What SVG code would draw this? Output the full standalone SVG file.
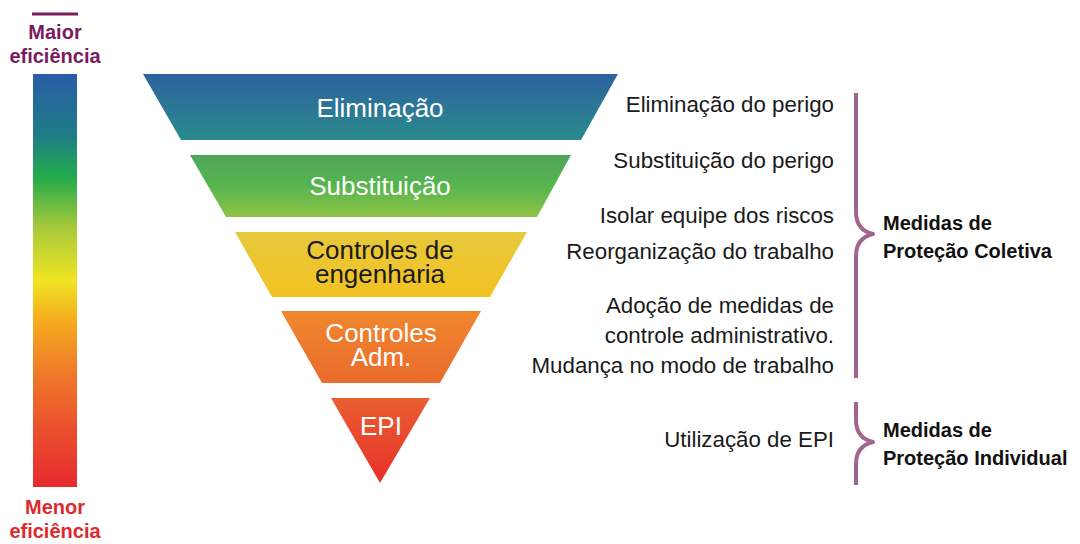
<svg xmlns="http://www.w3.org/2000/svg" width="1080" height="544" viewBox="0 0 1080 544">
<defs>
<linearGradient id="bar" x1="0" y1="74" x2="0" y2="487" gradientUnits="userSpaceOnUse">
<stop offset="0" stop-color="#2a5ca8"/>
<stop offset="0.15" stop-color="#1e7d86"/>
<stop offset="0.25" stop-color="#22ab4c"/>
<stop offset="0.37" stop-color="#a6c83a"/>
<stop offset="0.5" stop-color="#f0e424"/>
<stop offset="0.6" stop-color="#f5aa1e"/>
<stop offset="0.72" stop-color="#ef7b2a"/>
<stop offset="0.87" stop-color="#ea4c2e"/>
<stop offset="1" stop-color="#e52a2e"/>
</linearGradient>
<linearGradient id="pyr" x1="0" y1="74" x2="0" y2="483" gradientUnits="userSpaceOnUse">
<stop offset="0" stop-color="#2d62a0"/>
<stop offset="0.161" stop-color="#2a8a8c"/>
<stop offset="0.198" stop-color="#4fa65a"/>
<stop offset="0.27" stop-color="#55b44f"/>
<stop offset="0.35" stop-color="#8ec445"/>
<stop offset="0.386" stop-color="#e6c83c"/>
<stop offset="0.545" stop-color="#f3c222"/>
<stop offset="0.58" stop-color="#f0882e"/>
<stop offset="0.756" stop-color="#ea6a2c"/>
<stop offset="0.792" stop-color="#e95e30"/>
<stop offset="1" stop-color="#e8302a"/>
</linearGradient>
<style>
.lvl{fill:url(#pyr)}
.pt{font-family:"Liberation Sans",Arial,sans-serif;font-size:26px;fill:#ffffff;text-anchor:middle}
.pt.dark{fill:#1a1a1a}
.rt{font-family:"Liberation Sans",Arial,sans-serif;font-size:22.3px;fill:#1a1a1a;text-anchor:end}
.bl{font-family:"Liberation Sans",Arial,sans-serif;font-size:20px;font-weight:bold;fill:#111111}
.sc{font-family:"Liberation Sans",Arial,sans-serif;font-size:20px;font-weight:bold;text-anchor:middle}
.brace{fill:none;stroke:#a0668f;stroke-width:4;stroke-linejoin:round}
</style>
</defs>
<rect width="1080" height="544" fill="#ffffff"/>

<g id="scale">
<line x1="32" y1="14" x2="78" y2="14" stroke="#7a1b5f" stroke-width="3"/>
<text class="sc" x="55" y="39" fill="#7a1b5f">Maior</text>
<text class="sc" x="55" y="63" fill="#7a1b5f">eficiência</text>
<rect x="33" y="74" width="44" height="413" fill="url(#bar)"/>
<text class="sc" x="55" y="514" fill="#e0282f">Menor</text>
<text class="sc" x="55" y="538" fill="#e0282f">eficiência</text>
</g>

<g id="eliminacao">
<polygon class="lvl" points="143,74 618,74 581,140 181,140"/>
<text class="pt" x="380" y="117">Eliminação</text>
</g>
<g id="substituicao">
<polygon class="lvl" points="190,155 571,155 537,217 226,217"/>
<text class="pt" x="380" y="195">Substituição</text>
</g>
<g id="engenharia">
<polygon class="lvl" points="235,232 527,232 490,297 272,297"/>
<text class="pt dark" x="380" y="259">Controles de</text>
<text class="pt dark" x="380" y="283">engenharia</text>
</g>
<g id="administrativo">
<polygon class="lvl" points="281,311 481,311 440,383 322,383"/>
<text class="pt" x="381" y="342">Controles</text>
<text class="pt" x="381" y="366">Adm.</text>
</g>
<g id="epi">
<polygon class="lvl" points="331,398 430,398 380,483"/>
<text class="pt" x="381" y="435">EPI</text>
</g>

<g id="descricoes">
<text class="rt" x="834" y="112">Eliminação do perigo</text>
<text class="rt" x="834" y="168">Substituição do perigo</text>
<text class="rt" x="834" y="223">Isolar equipe dos riscos</text>
<text class="rt" x="834" y="259">Reorganização do trabalho</text>
<text class="rt" x="834" y="313">Adoção de medidas de</text>
<text class="rt" x="834" y="343">controle administrativo.</text>
<text class="rt" x="834" y="373">Mudança no modo de trabalho</text>
<text class="rt" x="834" y="447">Utilização de EPI</text>
</g>

<g id="connectors">
<path class="brace" d="M856,93 V212 Q856,230 873,234 Q856,238 856,256 V378"/>
<path class="brace" d="M856,402 V420 Q856,438 873,442 Q856,446 856,464 V485"/>
</g>

<g id="coletiva">
<text class="bl" x="883" y="230">Medidas de</text>
<text class="bl" x="883" y="258">Proteção Coletiva</text>
</g>
<g id="individual">
<text class="bl" x="883" y="437">Medidas de</text>
<text class="bl" x="883" y="465">Proteção Individual</text>
</g>
</svg>
